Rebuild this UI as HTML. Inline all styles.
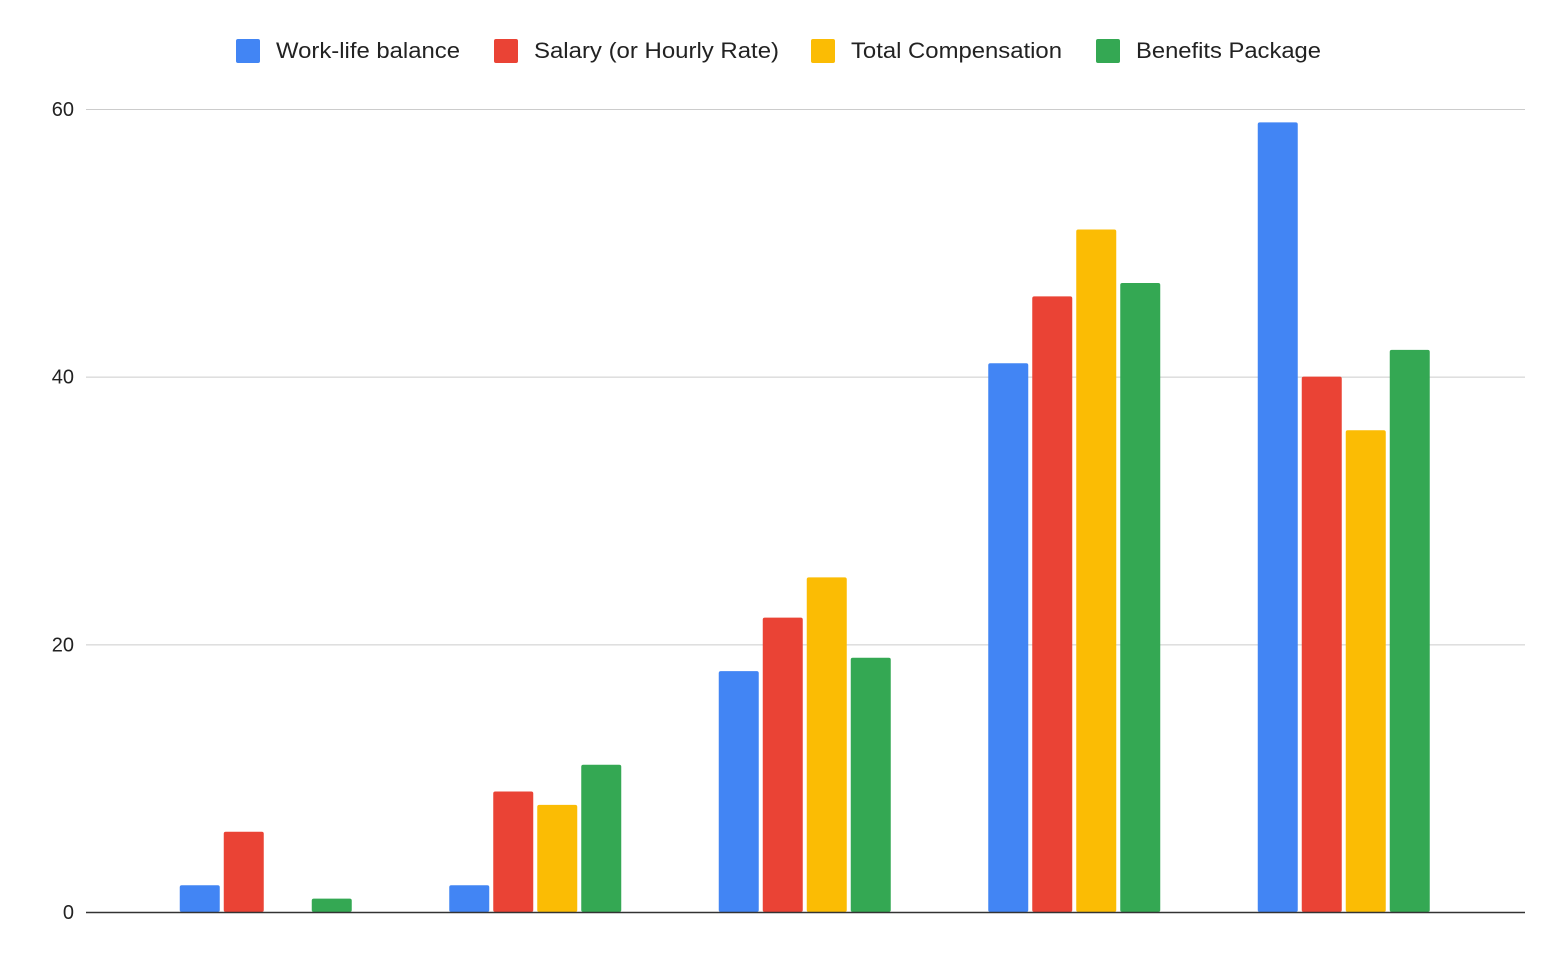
<!DOCTYPE html>
<html><head><meta charset="utf-8"><style>
body{margin:0;background:#fff;font-family:"Liberation Sans",Arial,sans-serif;}
svg text{font-family:"Liberation Sans",Arial,sans-serif;}
</style></head><body>
<svg id="chart" width="1562" height="948" xmlns="http://www.w3.org/2000/svg">
<g id="legend"></g>
<g id="grid"></g>
<g id="yaxis"></g>
<g id="bars"></g>
<line x1="86" x2="1525" y1="912.5" y2="912.5" stroke="#333" stroke-width="1.5"/>
</svg>
<script>
const categories = ["G1","G2","G3","G4","G5"];
const seriesNames = ["Work-life balance","Salary (or Hourly Rate)","Total Compensation","Benefits Package"];
const workLife = [2,2,18,41,59];
const salary = [6,9,22,46,40];
const totalComp = [0,8,25,51,36];
const benefits = [1,11,19,47,42];
const yTicks = [0,20,40,60];

const colors = ["#4285f4","#ea4335","#fbbc04","#34a853"];
const series = [workLife,salary,totalComp,benefits];
const NS = "http://www.w3.org/2000/svg";
const y0 = 912, yTop = 109, yMax = 60;
function yScale(v){return y0 - v/yMax*(y0-yTop);}
const bandStart = 131, bandW = 269.5;
function xCenter(i){return bandStart + bandW*(i+0.5);}
const barW = 40, gap = 4;
function mk(tag, attrs, parent){const e=document.createElementNS(NS,tag);for(const k in attrs)e.setAttribute(k,attrs[k]);parent.appendChild(e);return e;}

const grid=document.getElementById('grid'), yaxis=document.getElementById('yaxis');
yTicks.forEach(t=>{
  if(t!==0){
    const l=mk('line',{x1:86,x2:1525,y1:yScale(t)+0.5,y2:yScale(t)+0.5,stroke:'#ccc','stroke-width':1},grid);
    
    
  }
  const tx=mk('text',{x:74,y:yScale(t)+7,'text-anchor':'end','font-size':20,fill:'#222'},yaxis);
  tx.textContent=t;
  
  
});

const bars=document.getElementById('bars');
const groupW = 4*barW+3*gap;
categories.forEach((c,i)=>{
  series.forEach((s,j)=>{
    const v=s[i]; if(v<=0) return;
    const x=xCenter(i)-groupW/2+j*(barW+gap);
    const y=yScale(v);
    const r=mk('rect',{x:x,y:y,width:barW,height:y0-y,fill:colors[j],rx:2},bars);
    
    
  });
});

const legend=document.getElementById('legend');
const lx=[236,494,811,1096];
const lw=[184,245,211,185];
seriesNames.forEach((n,j)=>{
  const g=mk('g',{},legend);
  
  
  mk('rect',{x:lx[j],y:39,width:24,height:24,rx:2,fill:colors[j]},g);
  const t=mk('text',{x:lx[j]+40,y:58,'font-size':22,fill:'#222',textLength:lw[j],lengthAdjust:'spacingAndGlyphs'},g);
  t.textContent=n;
});
</script>
</body></html>
